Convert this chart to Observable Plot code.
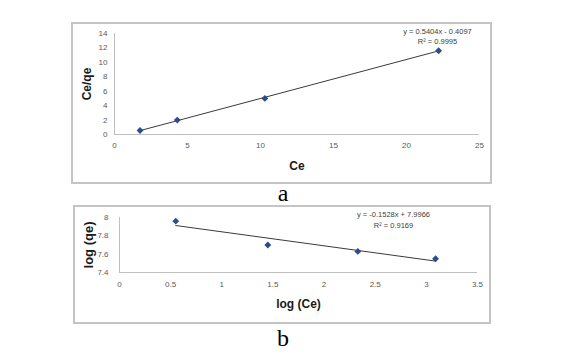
<!DOCTYPE html>
<html>
<head>
<meta charset="utf-8">
<script src="https://cdn.jsdelivr.net/npm/d3@7"></script>
<script src="https://cdn.jsdelivr.net/npm/@observablehq/plot@0.6"></script>
<style>
  html, body { margin: 0; padding: 0; background: #fff; }
  #page { position: relative; width: 582px; height: 361px; background: #fff; overflow: hidden; }
  .box { position: absolute; box-sizing: border-box; border: 2px solid #c4c4c4; }
  .chart { position: absolute; }
  .chart svg { display: block; overflow: visible; }
  .tag { position: absolute; font-family: "Liberation Serif", "DejaVu Serif", serif; font-size: 24px; color: #000; transform: translateX(-50%); line-height: 1; }
</style>
</head>
<body>
<div id="page">
  <div class="box" style="left:71px;top:22px;width:421px;height:162px;"></div>
  <div class="box" style="left:73px;top:205px;width:418px;height:119px;"></div>
  <div class="chart" id="chartA" style="left:71px;top:22px;"></div>
  <div class="chart" id="chartB" style="left:73px;top:205px;"></div>
  <div class="tag" style="left:283px;top:181px;">a</div>
  <div class="tag" style="left:283px;top:326px;">b</div>
</div>
<script>
// ---- Chart a: Langmuir (Ce/qe vs Ce)
const ceA = [1.75, 4.3, 10.3, 22.2];
const ceqeA = [0.55, 2.0, 5.0, 11.6];
const slopeA = 0.5404, interceptA = -0.4097;
const eqA = ["y = 0.5404x - 0.4097", "R\u00B2 = 0.9995"];
const xTicksA = [0, 5, 10, 15, 20, 25];
const yTicksA = [0, 2, 4, 6, 8, 10, 12, 14];

// ---- Chart b: Freundlich (log qe vs log Ce)
const logCeB = [0.55, 1.45, 2.33, 3.09];
const logQeB = [7.96, 7.70, 7.63, 7.55];
const slopeB = -0.1528, interceptB = 7.9966;
const eqB = ["y = -0.1528x + 7.9966", "R\u00B2 = 0.9169"];
const xTicksB = [0, 0.5, 1, 1.5, 2, 2.5, 3, 3.5];
const yTicksB = [7.4, 7.6, 7.8, 8];

const tickFont = "'Liberation Sans', Arial, sans-serif";
const titleFont = "'Liberation Sans', Arial, sans-serif";
const markerColor = "#2b4d8c";
const axisColor = "#bfbfbf";

function makeChart(opts) {
  const pts = opts.xs.map((x, i) => ({x, y: opts.ys[i]}));
  const x0 = d3.min(opts.xs), x1 = d3.max(opts.xs);
  const trend = [x0, x1].map(x => ({x, y: opts.slope * x + opts.intercept}));
  return Plot.plot({
    width: opts.width,
    height: opts.height,
    marginLeft: opts.ml, marginRight: opts.mr, marginTop: opts.mt, marginBottom: opts.mb,
    style: {fontFamily: tickFont, fontSize: "8px", color: "#595959", background: "transparent", overflow: "visible"},
    x: {domain: opts.xDomain},
    y: {domain: opts.yDomain},
    marks: [
      Plot.axisX({ticks: opts.xTicks, tickSize: 0, tickPadding: opts.xPad, tickFormat: d => String(d), label: null}),
      Plot.axisY({ticks: opts.yTicks, tickSize: 0, tickPadding: opts.yPad, tickFormat: d => String(d), label: null}),
      Plot.ruleY([opts.yDomain[0]], {stroke: axisColor, strokeWidth: 1}),
      Plot.ruleX([opts.xDomain[0]], {stroke: axisColor, strokeWidth: 1}),
      Plot.line(trend, {x: "x", y: "y", stroke: "#3a3a3a", strokeWidth: 1}),
      Plot.dot(pts, {x: "x", y: "y", symbol: "diamond2", r: 3.1, fill: markerColor, stroke: "none"}),
      Plot.text([opts.yLabel], {frameAnchor: "left", dx: opts.yLabelDx, rotate: -90, text: d => d,
        textAnchor: "middle", lineAnchor: "middle",
        fontFamily: titleFont, fontWeight: "bold", fontSize: opts.yLabelSize, fill: "#1a1a1a"}),
      Plot.text([opts.xLabel], {frameAnchor: "bottom", dy: opts.xLabelDy, text: d => d,
        textAnchor: "middle", lineAnchor: "middle",
        fontFamily: titleFont, fontWeight: "bold", fontSize: 12, fill: "#1a1a1a"}),
      Plot.text([opts.eq[0]], {frameAnchor: "top-right", dx: opts.eqDx, dy: opts.eqDy[0], text: d => d,
        textAnchor: "middle", lineAnchor: "middle", fontSize: 7.5, fill: "#404040"}),
      Plot.text([opts.eq[1]], {frameAnchor: "top-right", dx: opts.eqDx, dy: opts.eqDy[1], text: d => d,
        textAnchor: "middle", lineAnchor: "middle", fontSize: 7.5, fill: "#404040"})
    ]
  });
}

document.getElementById("chartA").appendChild(makeChart({
  xs: ceA, ys: ceqeA, slope: slopeA, intercept: interceptA,
  width: 421, height: 162, ml: 43, mr: 13, mt: 11, mb: 50,
  xDomain: [0, 25], yDomain: [0, 14], xTicks: xTicksA, yTicks: yTicksA,
  xPad: 8, yPad: 7,
  yLabel: "Ce/qe", yLabelDx: -27, yLabelSize: 12,
  xLabel: "Ce", xLabelDy: 32,
  eq: eqA, eqDx: -42, eqDy: [-2.3, 7.7]
}));

document.getElementById("chartB").appendChild(makeChart({
  xs: logCeB, ys: logQeB, slope: slopeB, intercept: interceptB,
  width: 418, height: 119, ml: 46, mr: 14, mt: 12, mb: 52,
  xDomain: [0, 3.5], yDomain: [7.4, 8], xTicks: xTicksB, yTicks: yTicksB,
  xPad: 9, yPad: 11,
  yLabel: "log (qe)", yLabelDx: -31, yLabelSize: 13,
  xLabel: "log (Ce)", xLabelDy: 32,
  eq: eqB, eqDx: -84, eqDy: [-3, 8]
}));
</script>
</body>
</html>
